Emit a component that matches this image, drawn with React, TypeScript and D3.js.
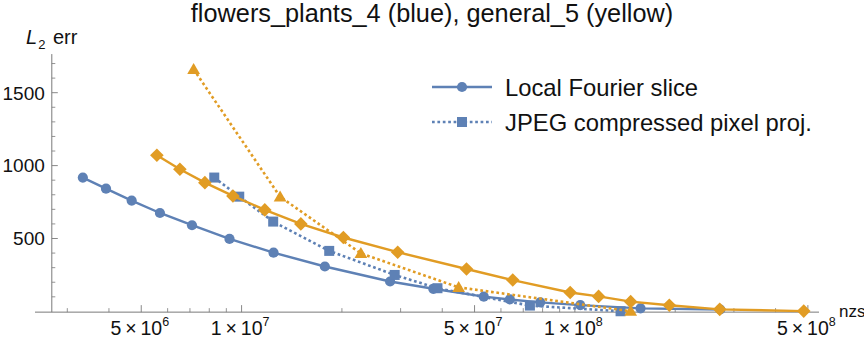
import React from "react";
import * as d3 from "d3";

const W = 864;
const H = 341;

// Blue: flowers_plants_4
const blueLfsX = [3.34e6, 3.92e6, 4.68e6, 5.69e6, 7.1e6, 9.2e6, 1.247e7, 1.778e7, 2.79e7, 3.76e7, 5.33e7, 6.38e7, 7.87e7, 1.038e8, 1.574e8, 2.73e8];
const blueLfsY = [918, 842, 760, 675, 591, 497, 403, 308, 205, 155, 101, 82, 62, 43, 21, 13];
const blueJpegX = [8.28e6, 9.84e6, 1.244e7, 1.832e7, 2.88e7, 3.87e7, 7.33e7, 1.371e8];
const blueJpegY = [918, 787, 616, 415, 250, 159, 40, 1];
// Yellow: general_5
const yellowLfsX = [5.57e6, 6.53e6, 7.76e6, 9.42e6, 1.174e7, 1.506e7, 2.02e7, 2.94e7, 4.73e7, 6.51e7, 9.68e7, 1.178e8, 1.47e8, 1.92e8, 2.72e8, 4.86e8];
const yellowLfsY = [1071, 975, 883, 792, 696, 600, 507, 406, 291, 215, 130, 103, 67, 42, 14, 2];
const yellowJpegX = [7.18e6, 1.305e7, 2.28e7, 4.48e7, 1.47e8];
const yellowJpegY = [1660, 786, 398, 165, 1];

const xMajorTicks = [5e6, 1e7, 5e7, 1e8, 5e8];
const xMajorMant = ["5", "1", "5", "1", "5"];
const xMajorExp = ["6", "7", "7", "8", "8"];
const xMinorTicks = [3e6, 4e6, 6e6, 7e6, 8e6, 9e6, 2e7, 3e7, 4e7, 6e7, 7e7, 8e7, 9e7, 2e8, 3e8, 4e8];
const yMajorTicks = [500, 1000, 1500];
const yMinorTicks = [100, 200, 300, 400, 600, 700, 800, 900, 1100, 1200, 1300, 1400, 1600, 1700];

const title = "flowers_plants_4 (blue), general_5 (yellow)";
const legendLabels = ["Local Fourier slice", "JPEG compressed pixel proj."];

const BLUE = "#5E81B5";
const ORANGE = "#E19C24";
const AXIS = "#7a7a7a";
const FONT = "'Liberation Sans', Arial, Helvetica, sans-serif";

const x = d3.scaleLog().domain([2.4e6, 5.4e8]).range([35, 819]);
const y = d3.scaleLinear().domain([0, 1500]).range([311.4, 92.7]);

type Shape = "circle" | "square" | "diamond" | "triangle";

function Marker({ cx, cy, shape, color }: { cx: number; cy: number; shape: Shape; color: string }) {
  if (shape === "circle") return <circle cx={cx} cy={cy} r={5.1} fill={color} />;
  if (shape === "square") return <rect x={cx - 5} y={cy - 5} width={10} height={10} fill={color} />;
  if (shape === "diamond") {
    const s = 6.8;
    return <path d={`M${cx},${cy - s}L${cx + s},${cy}L${cx},${cy + s}L${cx - s},${cy}Z`} fill={color} />;
  }
  const s = 6.4;
  return <path d={`M${cx},${cy - s}L${cx + s},${cy + s * 0.72}L${cx - s},${cy + s * 0.72}Z`} fill={color} />;
}

function Series({ xs, ys, color, dashed, shape }: { xs: number[]; ys: number[]; color: string; dashed: boolean; shape: Shape }) {
  const pts: [number, number][] = xs.map((v, i) => [x(v), y(ys[i])]);
  const line = d3.line()(pts) || "";
  return (
    <g>
      <path d={line} fill="none" stroke={color} strokeWidth={dashed ? 2.6 : 2.4} strokeDasharray={dashed ? "2.7,2.7" : undefined} />
      {pts.map((p, i) => (
        <Marker key={i} cx={p[0]} cy={p[1]} shape={shape} color={color} />
      ))}
    </g>
  );
}

export default function App() {
  const axisY = y(-5);
  const axisX = x(3e6) - 15.5;
  return (
    <svg width={W} height={H} style={{ position: "absolute", left: 0, top: 0, background: "#fff" }} fontFamily={FONT}>
      <text x={432} y={22} fontSize={25.3} textAnchor="middle" fill="#111">{title}</text>

      {/* y axis */}
      <line x1={axisX} x2={axisX} y1={y(1765)} y2={axisY} stroke={AXIS} strokeWidth={1} />
      {yMinorTicks.map((t) => (
        <line key={t} x1={axisX} x2={axisX + 3.5} y1={y(t)} y2={y(t)} stroke={AXIS} strokeWidth={0.8} />
      ))}
      {yMajorTicks.map((t) => (
        <g key={t}>
          <line x1={axisX} x2={axisX + 6} y1={y(t)} y2={y(t)} stroke={AXIS} strokeWidth={0.9} />
          <text x={axisX - 7} y={y(t) + 6.8} fontSize={19} textAnchor="end" fill="#111">{t}</text>
        </g>
      ))}
      <text x={26} y={44} fontSize={20} fill="#111">
        <tspan fontStyle="italic">L</tspan>
        <tspan fontSize={13} dy={5} dx={1}>2</tspan>
        <tspan dy={-5} dx={2}> err</tspan>
      </text>

      {/* x axis */}
      <line x1={35} x2={819} y1={axisY} y2={axisY} stroke={AXIS} strokeWidth={1} />
      {xMinorTicks.map((t) => (
        <line key={t} x1={x(t)} x2={x(t)} y1={axisY} y2={axisY - 4} stroke={AXIS} strokeWidth={0.8} />
      ))}
      {xMajorTicks.map((t, i) => (
        <g key={t}>
          <line x1={x(t)} x2={x(t)} y1={axisY} y2={axisY - 7} stroke={AXIS} strokeWidth={0.9} />
          <text x={x(t) - 1.5} y={334.5} fontSize={19.5} textAnchor="middle" fill="#111">
            {xMajorMant[i]}{"\u2009×\u2009"}10<tspan fontSize={12.5} dy={-8.5}>{xMajorExp[i]}</tspan>
          </text>
        </g>
      ))}
      <text x={839} y={317} fontSize={17} fill="#111">nzs</text>

      {/* data */}
      <Series xs={blueLfsX} ys={blueLfsY} color={BLUE} dashed={false} shape="circle" />
      <Series xs={blueJpegX} ys={blueJpegY} color={BLUE} dashed={true} shape="square" />
      <Series xs={yellowLfsX} ys={yellowLfsY} color={ORANGE} dashed={false} shape="diamond" />
      <Series xs={yellowJpegX} ys={yellowJpegY} color={ORANGE} dashed={true} shape="triangle" />

      {/* legend */}
      {legendLabels.map((lab, i) => {
        const ly = 87 + i * 35;
        return (
          <g key={lab}>
            <line x1={432} x2={492} y1={ly} y2={ly} stroke={BLUE} strokeWidth={i === 1 ? 2.6 : 2.4} strokeDasharray={i === 1 ? "2.7,2.7" : undefined} />
            <Marker cx={462} cy={ly} shape={i === 0 ? "circle" : "square"} color={BLUE} />
            <text x={505} y={ly + 8.5} fontSize={23.8} fill="#111">{lab}</text>
          </g>
        );
      })}
    </svg>
  );
}
